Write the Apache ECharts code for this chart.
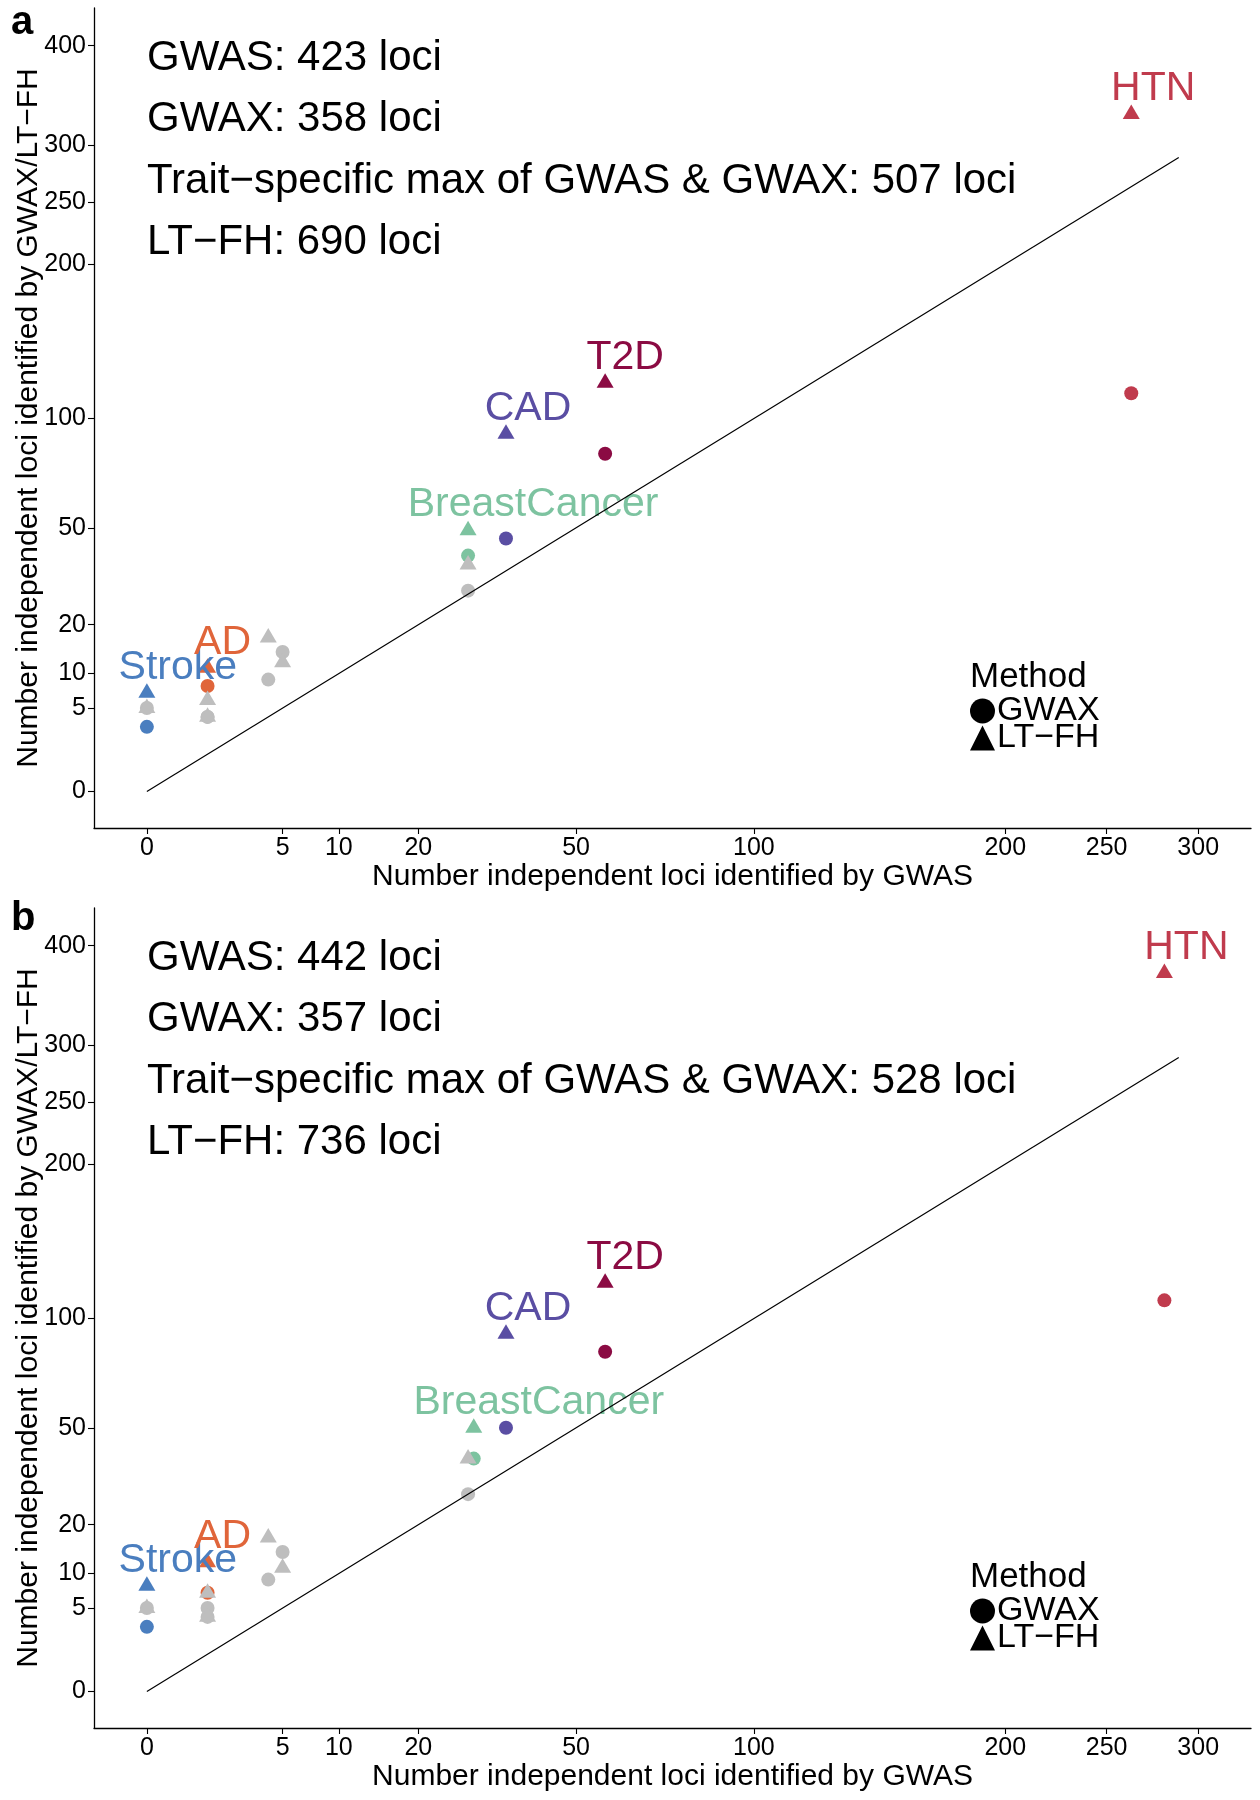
<!DOCTYPE html>
<html>
<head>
<meta charset="utf-8">
<script src="https://cdn.jsdelivr.net/npm/echarts@6/dist/echarts.min.js"></script>
<style>
html,body{margin:0;padding:0;background:#fff}
#chart{width:1260px;height:1800px}
</style>
</head>
<body>
<div id="chart"></div>
<script>
// ---------- data ----------
const traits = ['Stroke', 'AD', 'BreastCancer', 'CAD', 'T2D', 'HTN'];

// Panel a
const gwasA = [0, 1, 28, 35, 57, 263];
const gwaxA = [3, 8, 40, 46, 82, 114];
const ltfhA = [7, 11, 49, 92, 120, 330];
const otherGwasA = [0, 1, 1, 4, 5, 28];
const otherGwaxA = [5, 4, 4, 9, 14, 29];
const otherLtfhA = [5, 6, 4, 17, 12, 37];
const summaryA = ['GWAS: 423 loci', 'GWAX: 358 loci', 'Trait\u2212specific max of GWAS & GWAX: 507 loci', 'LT\u2212FH: 690 loci'];

// Panel b
const gwasB = [0, 1, 29, 35, 57, 281];
const gwaxB = [3, 7, 39, 50, 83, 110];
const ltfhB = [8, 12, 50, 92, 120, 371];
const otherGwasB = [0, 1, 1, 4, 5, 28];
const otherGwaxB = [5, 5, 4, 9, 14, 28];
const otherLtfhB = [5, 7, 4, 17, 11, 39];
const summaryB = ['GWAS: 442 loci', 'GWAX: 357 loci', 'Trait\u2212specific max of GWAS & GWAX: 528 loci', 'LT\u2212FH: 736 loci'];

const xTicks = [0, 5, 10, 20, 50, 100, 200, 250, 300];
const yTicks = [0, 5, 10, 20, 50, 100, 200, 250, 300, 400];
const diagonal = [0, 289];
const panelLetters = ['a', 'b'];
const methods = ['GWAX', 'LT\u2212FH'];

// ---------- styles ----------
const traitColors = ['#4a7ebf', '#e0653a', '#7dc3a0', '#5a4ea3', '#8b0b43', '#c03b4d'];
const otherColor = '#bebebe';
const labelDx = [31, 15, 65, 22, 20, 22];
const FONT = '"Liberation Sans", Arial, Helvetica, sans-serif';

// sqrt transform (ggplot scale_*_sqrt)
const tr = v => Math.sqrt(v);

const panels = [
  {gwas: gwasA, gwax: gwaxA, ltfh: ltfhA, oGwas: otherGwasA, oGwax: otherGwaxA, oLtfh: otherLtfhA, summary: summaryA, top: 8},
  {gwas: gwasB, gwax: gwaxB, ltfh: ltfhB, oGwas: otherGwasB, oGwax: otherGwaxB, oLtfh: otherLtfhB, summary: summaryB, top: 908}
];

const gridH = 820;
const grids = [], xAxes = [], yAxes = [], series = [], graphics = [], legends = [];

panels.forEach((p, i) => {
  grids.push({left: 94, width: 1157, top: p.top, height: gridH, containLabel: false, outerBoundsMode: 'none'});
  xAxes.push({
    type: 'value', gridIndex: i, min: -0.871, max: 18.19,
    name: 'Number independent loci identified by GWAS',
    nameLocation: 'middle', nameGap: 34, nameMoveOverlap: false,
    nameTextStyle: {fontSize: 30, color: '#000', fontFamily: FONT},
    axisLine: {show: true, onZero: false, lineStyle: {color: '#000', width: 1.3}},
    axisTick: {show: true, length: 6, lineStyle: {color: '#000', width: 1.1}, customValues: xTicks.map(tr)},
    axisLabel: {show: true, customValues: xTicks.map(tr), margin: 8, fontSize: 25, color: '#000', fontFamily: FONT,
      formatter: v => String(Math.round(v * v))},
    splitLine: {show: false}
  });
  yAxes.push({
    type: 'value', gridIndex: i, min: -0.98, max: 21.01,
    name: 'Number independent loci identified by GWAX/LT\u2212FH',
    nameLocation: 'middle', nameGap: 50, nameMoveOverlap: false,
    nameTextStyle: {fontSize: 30, color: '#000', fontFamily: FONT},
    axisLine: {show: true, onZero: false, lineStyle: {color: '#000', width: 1.3}},
    axisTick: {show: true, length: 6, lineStyle: {color: '#000', width: 1.1}, customValues: yTicks.map(tr)},
    axisLabel: {show: true, customValues: yTicks.map(tr), margin: 8, fontSize: 25, color: '#000', fontFamily: FONT,
      formatter: v => String(Math.round(v * v))},
    splitLine: {show: false}
  });

  // GWAX circles
  const circ = [];
  traits.forEach((t, k) => circ.push({name: t, value: [tr(p.gwas[k]), tr(p.gwax[k])], itemStyle: {color: traitColors[k]}}));
  p.oGwas.forEach((g, k) => circ.push({name: 'other', value: [tr(g), tr(p.oGwax[k])], itemStyle: {color: otherColor}}));
  series.push({
    type: 'scatter', name: methods[0], xAxisIndex: i, yAxisIndex: i,
    symbol: 'circle', symbolSize: 14, data: circ, z: 2, silent: true,
    itemStyle: {opacity: 1}
  });

  // LT-FH triangles
  const tri = [];
  traits.forEach((t, k) => tri.push({name: t, value: [tr(p.gwas[k]), tr(p.ltfh[k])], itemStyle: {color: traitColors[k]}}));
  p.oGwas.forEach((g, k) => tri.push({name: 'other', value: [tr(g), tr(p.oLtfh[k])], itemStyle: {color: otherColor}}));
  series.push({
    type: 'scatter', name: methods[1], xAxisIndex: i, yAxisIndex: i,
    symbol: 'triangle', symbolSize: [17, 14.5], symbolOffset: [0, -2.4], data: tri, z: 3, silent: true,
    itemStyle: {opacity: 1}
  });

  // trait labels
  series.push({
    type: 'scatter', name: 'labels' + i, xAxisIndex: i, yAxisIndex: i,
    symbolSize: 0.01, itemStyle: {color: 'rgba(0,0,0,0)', opacity: 1}, z: 4, silent: true,
    data: traits.map((t, k) => ({
      name: t, value: [tr(p.gwas[k]), tr(p.ltfh[k])],
      label: {show: true, formatter: t, position: 'inside', offset: [labelDx[k], -25.5],
        color: traitColors[k], opacity: 1, fontSize: 41, fontFamily: FONT, align: 'center', verticalAlign: 'middle'}
    }))
  });

  // identity line
  series.push({
    type: 'line', name: 'diag' + i, xAxisIndex: i, yAxisIndex: i, symbol: 'none', silent: true, z: 5,
    lineStyle: {color: '#000', width: 1.2}, data: diagonal.map(v => [tr(v), tr(v)])
  });

  // summary text
  const centers = [50, 111, 173, 234];
  p.summary.forEach((s, k) => graphics.push({
    type: 'text', left: 147, top: p.top + centers[k] - 21, silent: true,
    style: {text: s, fontSize: 42, fontFamily: FONT, fill: '#000', lineHeight: 42}
  }));

  // panel letter
  graphics.push({
    type: 'text', left: 11, top: p.top + (i === 0 ? -5 : -9), silent: true,
    style: {text: panelLetters[i], fontSize: 40, fontWeight: 'bold', fontFamily: FONT, fill: '#000', lineHeight: 40}
  });

  // legend title
  graphics.push({
    type: 'text', left: 970, top: p.top + 669 - 18, silent: true,
    style: {text: 'Method', fontSize: 35, fontFamily: FONT, fill: '#000', lineHeight: 36}
  });

  legends.push({
    data: [
      {name: methods[0], icon: 'circle', itemStyle: {color: '#000', opacity: 1}},
      {name: methods[1], icon: 'triangle', itemStyle: {color: '#000', opacity: 1}}
    ],
    orient: 'vertical', left: 970, top: p.top + 686,
    itemWidth: 25, itemHeight: 25, itemGap: -7, padding: 0, selectedMode: false,
    textStyle: {fontSize: 34, color: '#000', fontFamily: FONT, padding: [0, 0, 0, -3]}
  });
});

const chart = echarts.init(document.getElementById('chart'), null, {renderer: 'canvas'});
chart.setOption({
  backgroundColor: '#fff',
  animation: false,
  textStyle: {fontFamily: FONT},
  grid: grids,
  xAxis: xAxes,
  yAxis: yAxes,
  legend: legends,
  series: series,
  graphic: graphics
});
</script>
</body>
</html>
